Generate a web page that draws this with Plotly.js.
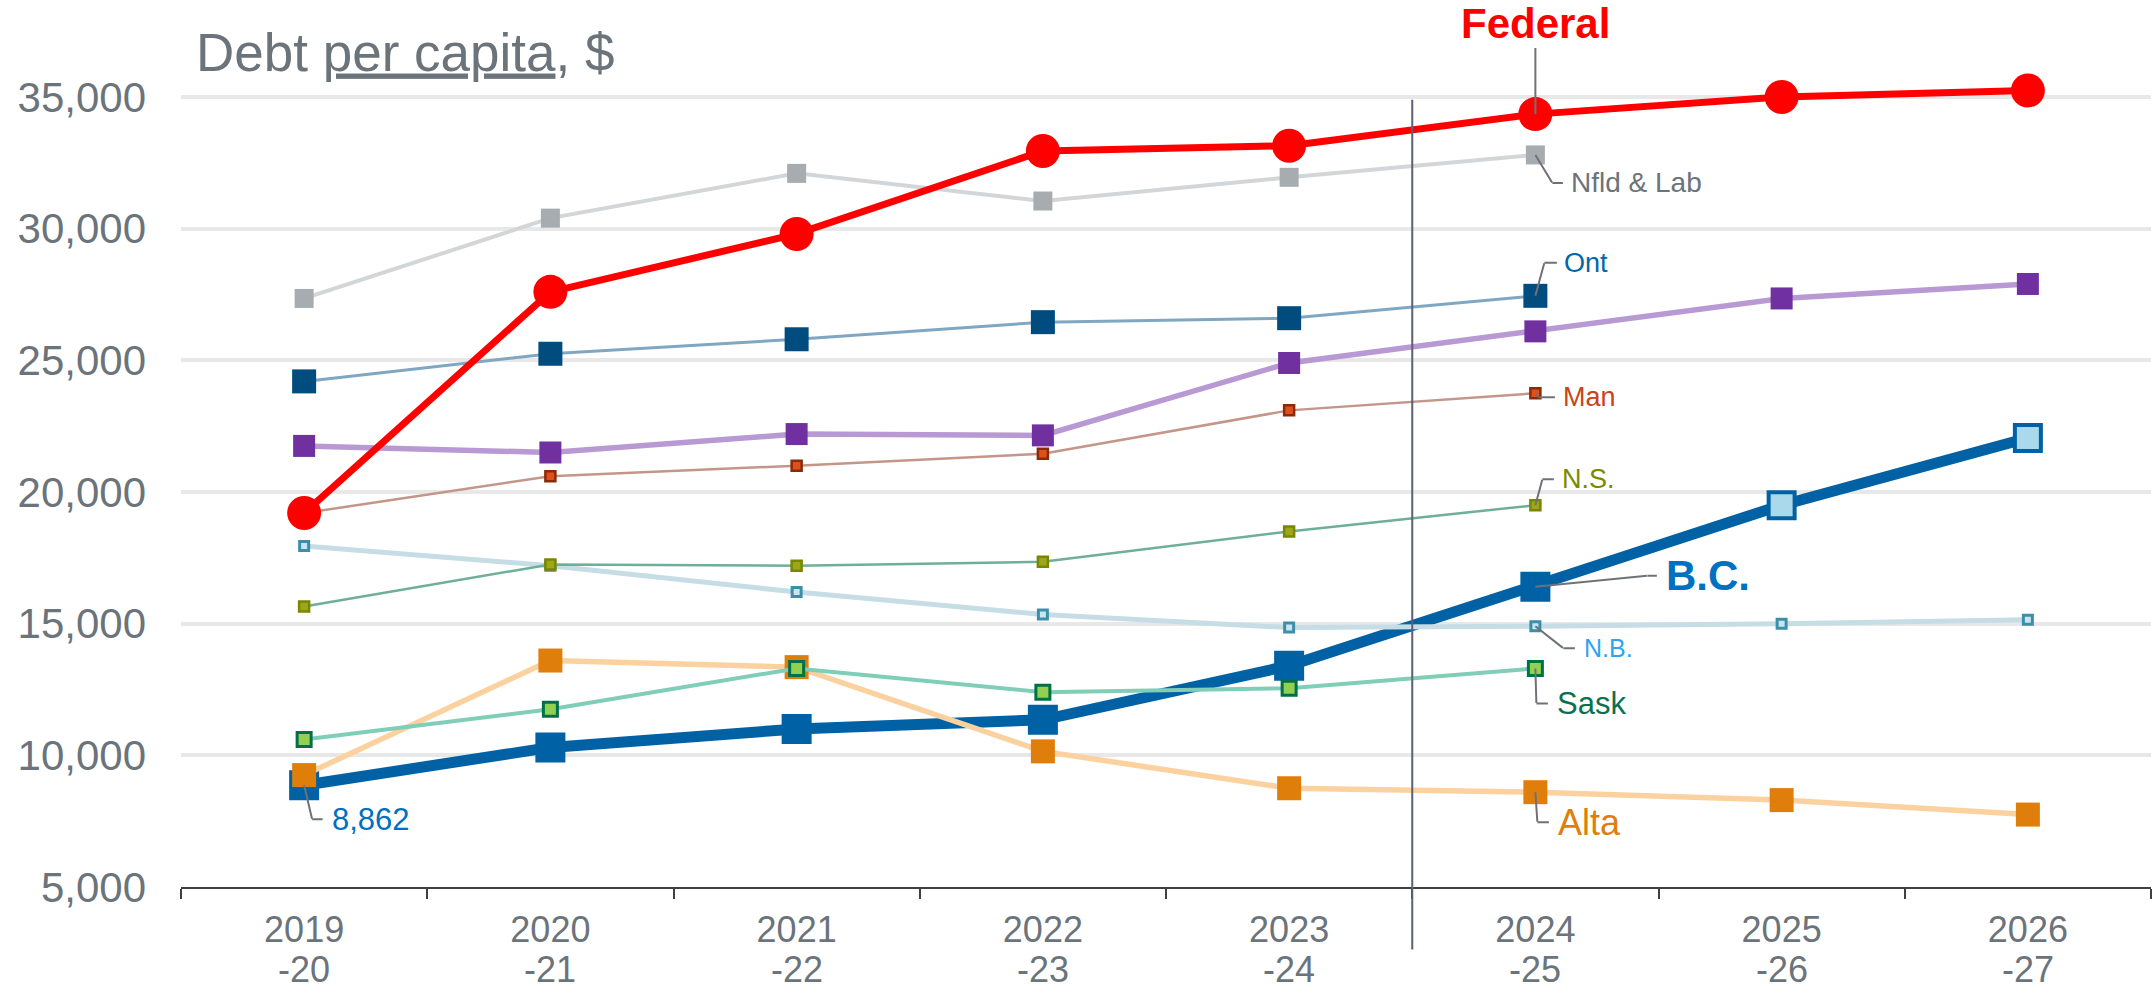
<!DOCTYPE html>
<html>
<head>
<meta charset="utf-8">
<script src="https://cdn.plot.ly/plotly-3.0.1.min.js"></script>
<style>
html,body{margin:0;padding:0;background:#fff;}
#chart{width:2152px;height:994px;}
</style>
</head>
<body>
<div id="chart"></div>
<script>
// ---- data ----
const years     = ['2019','2020','2021','2022','2023','2024','2025','2026'];   // fiscal year start (tick line 1)
const yearEnds  = ['-20','-21','-22','-23','-24','-25','-26','-27'];           // fiscal year end (tick line 2)
const federal = [19200, 27600, 29800, 32950, 33150, 34350, 35000, 35250];
const nfld    = [27350, 30400, 32100, 31050, 31950, 32800];
const ont     = [24200, 25250, 25800, 26450, 26600, 27450];
const que     = [21750, 21500, 22200, 22150, 24900, 26100, 27350, 27900];
const man     = [19200, 20600, 21000, 21450, 23100, 23750];
const ns      = [15650, 17250, 17200, 17350, 18500, 19500];
const nb      = [17950, 17200, 16200, 15350, 14850, 14900, 15000, 15150];
const sask    = [10600, 11750, 13300, 12400, 12550, 13300];
const alta    = [9250, 13600, 13350, 10150, 8750, 8600, 8300, 7750];
const bc      = [8862, 10300, 11000, 11350, 13400, 16400, 19500, 22050];
const forecastStart = 5;      // index of first year after the divider
const labelIdx = 5;           // labels attached to 2024-25 point
const yMin = 5000, yMax = 38000;

const FONT = '"Liberation Sans", Arial, sans-serif';
const GREY = '#6B737B';
const LEADER = '#6E7278';

function tr(name, ys, lineColor, lineW, mSize, mColor, mLineColor, mLineW, symbol){
  return {
    type:'scatter', mode:'lines+markers', name:name,
    x: years.slice(0, ys.length), y: ys,
    line:{color:lineColor, width:lineW},
    marker:{symbol: symbol || 'square', size:mSize, color:mColor,
            line:{color:mLineColor || mColor, width:mLineW || 0}},
    hoverinfo:'name+y', cliponaxis:false
  };
}

const bcFill = bc.map((v,i)=> i > forecastStart ? '#A9D9EA' : '#0062A4');

const traces = [
  tr('B.C.', bc, '#0062A4', 11, 26, bcFill, '#0062A4', 4),
  tr('Nfld & Lab', nfld, '#D3D6D9', 4, 19, '#A7ACB0'),
  tr('Ont', ont, '#7FA7C2', 3, 24, '#004C7E'),
  tr('Que', que, '#B899D4', 5.5, 22, '#7030A0'),
  tr('Man', man, '#C4968A', 2.5, 10, '#E0501A', '#8A2A0A', 2.5),
  tr('N.B.', nb, '#C6DDE6', 5, 9, '#C8E6F0', '#3C8FAA', 3),
  tr('N.S.', ns, '#6FAF98', 2.5, 10, '#9CA81A', '#7A8600', 2.5),
  tr('Alta', alta, '#FBD29F', 5.5, 24, '#E07E0C'),
  tr('Sask', sask, '#80CDB8', 4, 14, '#92D050', '#00704A', 3),
  tr('Federal', federal, '#FF0000', 7, 34, '#FF0000', '#FF0000', 0, 'circle')
];

// annotations on a category axis are placed by category index
const annotations = [];
function lab(text, series, idx, dx, dy, hlen, gap, size, color, bold){
  const x = idx, y = series[idx];
  annotations.push({x:x, y:y, xref:'x', yref:'y', text:'', showarrow:true,
    arrowhead:0, arrowwidth:2, arrowcolor:LEADER, ax:dx, ay:dy,
    font:{size:1}, borderpad:0});
  annotations.push({x:x, y:y, xref:'x', yref:'y', text:'', showarrow:true,
    arrowhead:0, arrowwidth:2, arrowcolor:LEADER, ax:hlen, ay:0,
    xshift:dx, yshift:-dy, font:{size:1}, borderpad:0});
  annotations.push({x:x, y:y, xref:'x', yref:'y',
    text: bold ? '<b>'+text+'</b>' : text, showarrow:false,
    xanchor:'left', yanchor:'middle', xshift:dx + hlen + gap - 3, yshift:-dy,
    font:{family:FONT, size:size, color:color}});
}

annotations.push({x:labelIdx, y:federal[labelIdx], xref:'x', yref:'y',
  text:'<b>Federal</b>', showarrow:true, arrowhead:0, arrowwidth:2, arrowcolor:LEADER,
  ax:0, ay:-91, xanchor:'center', yanchor:'middle',
  font:{family:FONT, size:42, color:'#FF0000'}});

lab('Nfld &amp; Lab', nfld, labelIdx, 17, 28, 11, 9, 28, GREY);
lab('Ont', ont, labelIdx, 9, -33, 13, 8, 27, '#0068A8');
lab('Man', man, labelIdx, 3, 4, 17, 9, 27, '#C8441A');
lab('N.S.', ns, labelIdx, 7, -26, 12, 9, 27, '#7A8A00');
lab('B.C.', bc, labelIdx, 112, -11, 10, 10, 42, '#0070C0', true);
lab('N.B.', nb, labelIdx, 28, 22, 12, 10, 25, '#2EA3F2');
lab('Sask', sask, labelIdx, 1, 35, 12, 10, 31, '#0B7050');
lab('Alta', alta, labelIdx, 2, 30, 12, 10, 36, '#E07E0C');
lab('8,862', bc, 0, 8, 34, 11, 10, 31, '#0070C0');

// second line of each x tick label
const plotH = 994 - 18 - 107;
yearEnds.forEach((t, i) => {
  annotations.push({x:i, xref:'x', yref:'paper', y:-(970-887)/plotH,
    text:t, showarrow:false, xanchor:'center', yanchor:'middle',
    font:{family:FONT, size:36, color:GREY}});
});

const divX = forecastStart / years.length;
const yPaper = v => (v - yMin) / (yMax - yMin);

const layout = {
  width:2152, height:994,
  paper_bgcolor:'#ffffff', plot_bgcolor:'#ffffff',
  margin:{l:181, r:1, t:18, b:107, pad:0},
  showlegend:false,
  font:{family:FONT, color:GREY},
  title:{
    text:'Debt <span style="text-decoration:underline">per capita</span>, $',
    font:{family:FONT, size:53, color:GREY},
    x:196/2152, xref:'container', xanchor:'left',
    y:1-52/994, yref:'container', yanchor:'middle'
  },
  xaxis:{
    type:'category', range:[-0.5, years.length-0.5],
    showgrid:false, zeroline:false,
    showline:true, linecolor:'#404040', linewidth:2,
    ticks:'outside', tickson:'boundaries', ticklen:10, tickwidth:2, tickcolor:'#404040',
    tickfont:{family:FONT, size:36, color:GREY},
    ticklabelstandoff:10
  },
  yaxis:{
    range:[yMin, yMax], dtick:5000, tick0:5000,
    tickformat:',d',
    showgrid:true, gridcolor:'#E8E8E8', gridwidth:4,
    zeroline:false, showline:false, ticks:'',
    tickfont:{family:FONT, size:42, color:GREY},
    ticklabelstandoff:34
  },
  shapes:[{
    type:'line', xref:'paper', yref:'paper',
    x0:divX, x1:divX, y0:-0.072, y1:yPaper(34900),
    line:{color:'#5B5F78', width:2}, layer:'above'
  }],
  annotations: annotations
};

Plotly.newPlot('chart', traces, layout, {staticPlot:true, displayModeBar:false});
</script>
</body>
</html>
